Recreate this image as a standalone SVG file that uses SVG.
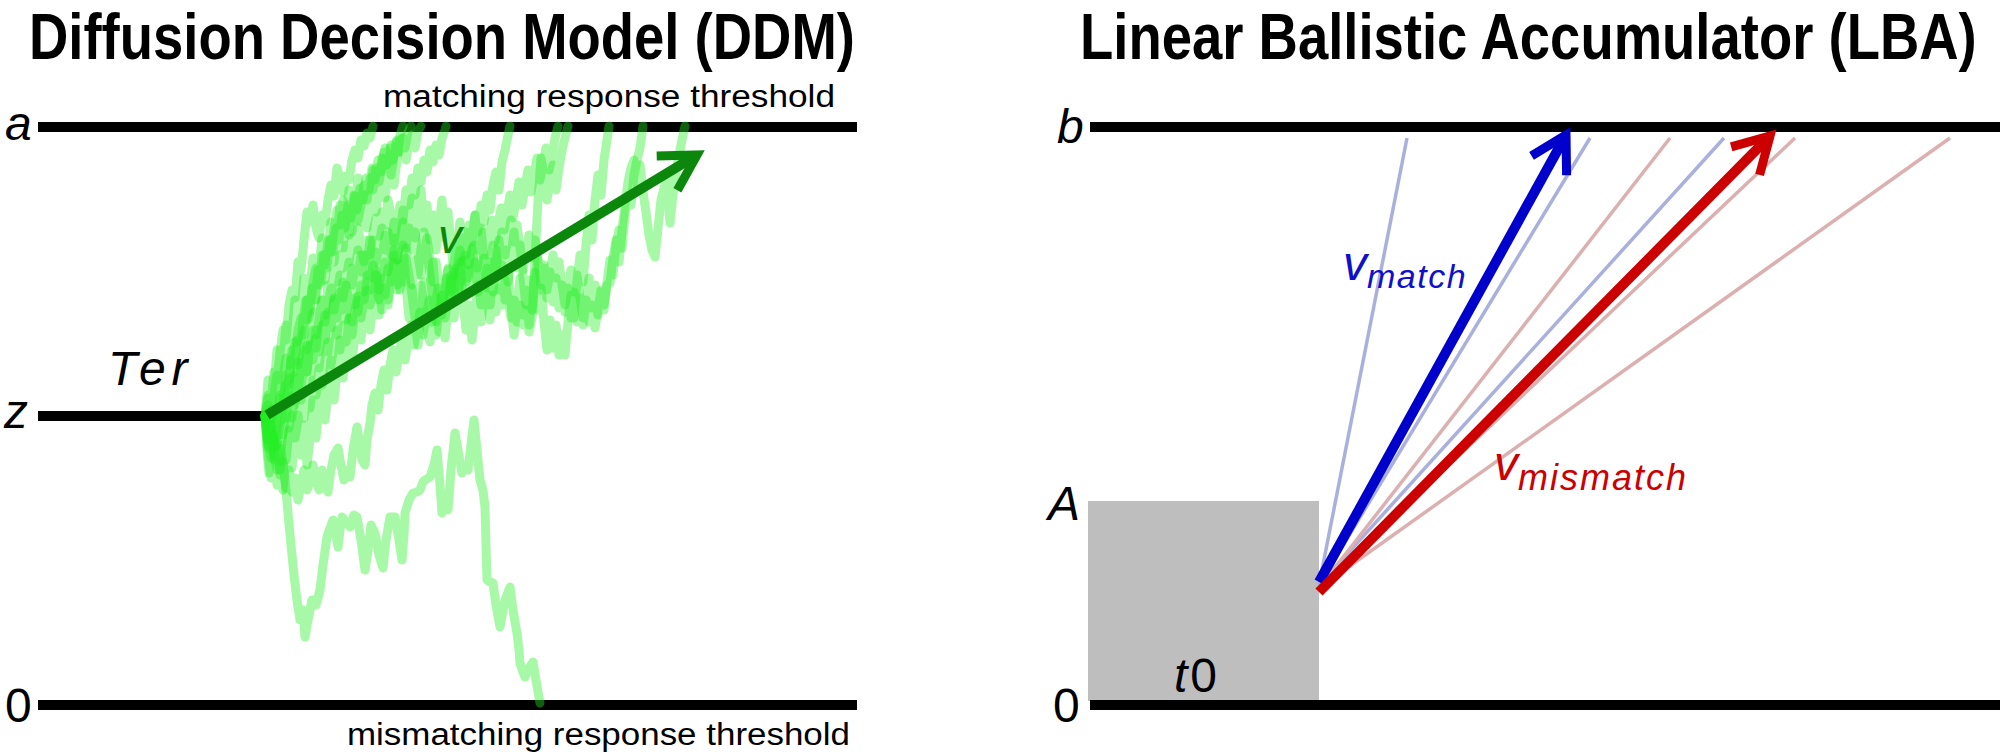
<svg xmlns="http://www.w3.org/2000/svg" width="2000" height="754" viewBox="0 0 2000 754">
<defs>
<style>
.title{font-family:"Liberation Sans",Arial,sans-serif;font-weight:bold;font-size:65px;fill:#000}
.lbl{font-family:"Liberation Sans",Arial,sans-serif;font-style:italic;font-size:48px;fill:#000}
.num{font-family:"Liberation Sans",Arial,sans-serif;font-size:48px;fill:#000}
.thr{font-family:"Liberation Sans",Arial,sans-serif;font-size:31px;fill:#000}
.axis{stroke:#000;stroke-width:10;fill:none}
.walk{fill:none;stroke:#22ee22;stroke-opacity:0.4;stroke-width:9;stroke-linejoin:round;stroke-linecap:round}
.thinB{stroke:#aab0dd;stroke-width:3.5;fill:none}
.thinR{stroke:#dcb0b0;stroke-width:3.5;fill:none}
</style>
<marker id="ahG" markerUnits="userSpaceOnUse" orient="auto" refX="0" refY="0" markerWidth="60" markerHeight="60" viewBox="-50 -30 60 60" overflow="visible"><path d="M-35,-20 L0,0 L-35,20" fill="none" stroke="#0b870b" stroke-width="9"/></marker>
<marker id="ahB" markerUnits="userSpaceOnUse" orient="auto" refX="0" refY="0" markerWidth="60" markerHeight="60" viewBox="-50 -30 60 60" overflow="visible"><path d="M-35,-20 L0,0 L-35,20" fill="none" stroke="#0000cc" stroke-width="9"/></marker>
<marker id="ahR" markerUnits="userSpaceOnUse" orient="auto" refX="0" refY="0" markerWidth="60" markerHeight="60" viewBox="-50 -30 60 60" overflow="visible"><path d="M-35,-20 L0,0 L-35,20" fill="none" stroke="#cc0000" stroke-width="9"/></marker>
</defs>
<rect width="2000" height="754" fill="#fff"/>

<g id="ddm">
<text class="title" transform="translate(29,59) scale(0.838,1)">Diffusion Decision Model (DDM)</text>
<g id="ddm-axes">
<line class="axis" x1="38" y1="127" x2="857" y2="127"/>
<line class="axis" x1="38" y1="416" x2="265" y2="416"/>
<line class="axis" x1="38" y1="705" x2="857" y2="705"/>
</g>
<text class="lbl" x="5" y="140" font-size="50">a</text>
<text class="lbl" x="4" y="428" font-size="50">z</text>
<text class="num" x="5" y="722">0</text>
<text class="lbl" x="108" y="385" font-size="45" letter-spacing="6">Ter</text>
<text class="thr" x="383" y="107" textLength="452" lengthAdjust="spacingAndGlyphs">matching response threshold</text>
<text class="thr" x="347" y="745" textLength="503" lengthAdjust="spacingAndGlyphs">mismatching response threshold</text>
<g id="walks">
<path class="walk" d="M265,416 L268,395 271,402 274,372 277,380 280,352 283,330 286,340 289,305 292,290 295,298 298,262 301,270 304,240 307,212 310,222 313,205 316,228 319,238 322,215 325,222 328,200 331,185 334,196 337,168 340,178 343,192 346,176 349,180 352,160 355,150 358,158 361,140 364,146 367,133 370,138 373,126"/>
<path class="walk" d="M265,416 L268,430 271,410 274,438 277,420 280,395 283,405 286,375 289,385 292,350 295,362 298,330 301,318 304,335 307,300 310,312 313,282 316,268 319,285 322,255 325,265 328,240 331,252 334,230 337,210 340,225 343,200 346,215 349,235 352,212 355,196 358,220 361,205 364,185 367,200 370,178 373,190 376,168 379,182 382,165 385,148 388,160 391,175 394,155 397,140 400,152 403,138 406,160 409,142 412,135 415,148 418,131 421,126"/>
<path class="walk" d="M265,416 L268,448 271,425 274,455 277,440 280,462 283,430 286,412 289,428 292,395 295,405 298,378 301,390 304,360 307,372 310,345 313,330 316,348 319,318 322,300 325,315 328,285 331,298 334,270 337,282 340,255 343,268 346,245 349,262 352,238 355,250 358,228 361,245 364,262 367,240 370,255 373,232 376,218 379,236 382,212 385,225 388,200 391,215 394,242 397,222 400,205 403,220 406,190 409,205 412,178 415,195 418,168 421,182 424,160 427,172 430,150 433,162 436,145 439,155 442,138 445,130 446,126"/>
<path class="walk" d="M265,416 L268,405 271,432 274,418 277,445 280,425 283,400 286,418 289,388 292,402 295,375 298,392 301,365 304,350 307,372 310,345 313,360 316,338 319,352 322,325 325,340 328,312 331,328 334,300 337,318 340,292 343,310 346,285 349,302 352,322 355,298 358,312 361,285 364,300 367,275 370,290 373,265 376,280 379,300 382,278 385,295 388,268 391,282 394,255 397,272 400,290 403,265 406,248 409,270 412,285 415,260 418,275 421,248 424,232 427,252 430,275 433,300 436,322 439,298 442,315 445,288 448,270 451,292 454,262 457,245 460,262 463,238 466,255 469,225 472,242 475,215 478,232 481,205 484,222 487,195 490,210 493,185 496,172 499,190 502,162 505,150 508,135 510,126"/>
<path class="walk" d="M265,416 L268,440 271,458 274,435 277,452 280,470 283,445 286,460 289,432 292,415 295,438 298,420 301,400 304,418 307,392 310,408 313,380 316,395 319,368 322,385 325,360 328,342 331,365 334,345 337,330 340,350 343,325 346,342 349,318 352,335 355,310 358,296 361,318 364,300 367,282 370,305 373,290 376,270 379,292 382,310 385,288 388,305 391,280 394,262 397,285 400,265 403,282 406,258 409,275 412,295 415,318 418,300 421,285 424,305 427,330 430,342 433,318 436,335 439,312 442,295 445,318 448,300 451,275 454,295 457,268 460,250 463,275 466,295 469,270 472,288 475,262 478,280 481,305 484,285 487,300 490,320 493,295 496,312 499,288 502,305 505,280 508,298 511,318 514,300 517,322 520,305 523,325 526,310 529,332 532,318 535,260 538,200 541,158 544,175 547,200 550,182 553,165 556,190 559,168 562,150 565,138 568,126"/>
<path class="walk" d="M265,416 L268,455 271,478 274,440 277,485 280,462 283,490 286,455 289,430 292,468 295,440 298,415 301,455 304,425 307,465 310,440 313,400 316,438 319,405 322,380 325,420 328,395 331,360 334,400 337,372 340,340 343,378 346,350 349,318 352,360 355,335 358,300 361,340 364,310 367,290 370,330 373,305 376,275 379,315 382,290 385,262 388,300 391,275 394,250 397,290 400,268 403,245 406,285 409,318 412,288 415,325 418,345 421,310 424,282 427,318 430,295 433,262 436,300 439,332 442,305 445,338 448,310 451,280 454,318 457,292 460,262 463,300 466,330 469,305 472,340 475,312 478,285 481,322 484,298 487,268 490,305 493,278 496,250 499,290 502,265 505,300 508,272 511,305 514,335 517,305 520,278 523,315 526,290 529,325 532,300 535,272 538,310 541,288 544,322 547,350 550,320 553,348 556,325 559,355 562,335 565,355 568,322 571,295 574,318 577,280 580,255 583,282 586,245 589,215 592,240 595,200 598,175 601,195 604,160 607,140 609,126"/>
<path class="walk" d="M265,416 L268,398 271,420 274,395 277,375 280,398 283,378 286,358 289,380 292,360 295,342 298,365 301,348 304,330 307,350 310,332 313,312 316,335 319,318 322,300 325,322 328,305 331,288 334,310 337,292 340,275 343,298 346,280 349,262 352,285 355,268 358,250 361,272 364,255 367,275 370,258 373,240 376,262 379,245 382,228 385,250 388,232 391,255 394,238 397,260 400,242 403,222 406,245 409,228 412,250 415,232 418,255 421,275 424,255 427,238 430,260 433,282 436,262 439,285 442,305 445,285 448,268 451,290 454,272 457,295 460,278 463,260 466,282 469,265 472,248 475,270 478,292 481,275 484,258 487,280 490,262 493,245 496,268 499,250 502,232 505,255 508,238 511,220 514,242 517,225 520,248 523,270 526,252 529,235 532,258 535,240 538,262 541,285 544,268 547,290 550,272 553,255 556,278 559,262 562,285 565,305 568,288 571,270 574,292 577,275 580,298 583,318 586,300 589,322 592,305 595,328 598,310 601,290 604,305 607,282 610,260 613,275 616,245 619,230 622,248 625,215 628,195 631,205 634,175 637,160 640,148 643,126"/>
<path class="walk" d="M265,416 L268,440 271,410 274,448 277,420 280,398 283,435 286,405 289,378 292,418 295,390 298,362 301,400 304,372 307,345 310,385 313,358 316,330 319,368 322,340 325,315 328,352 331,325 334,298 337,335 340,310 343,282 346,320 349,295 352,268 355,305 358,280 361,255 364,292 367,268 370,240 373,278 376,252 379,290 382,262 385,235 388,272 391,248 394,222 397,260 400,235 403,210 406,248 409,222 412,198 415,238 418,212 421,190 424,228 427,205 430,240 433,215 436,250 439,225 442,200 445,238 448,212 451,245 454,275 457,250 460,222 463,258 466,232 469,265 472,240 475,215 478,250 481,228 484,260 487,288 490,262 493,292 496,268 499,240 502,275 505,250 508,282 511,258 514,232 517,268 520,245 523,278 526,305 529,280 532,310 535,285 538,258 541,290 544,265 547,298 550,272 553,302 556,278 559,308 562,285 565,312 568,288 571,318 574,292 577,322 580,298 583,325 586,302 589,278 592,308 595,285 598,315 601,292 604,310 607,285 610,283 613,258 616,240 619,262 622,230 625,205 628,182 631,168 634,160 637,185 640,165 643,192 646,212 649,235 652,250 655,257 658,228 661,200 664,188 667,180 670,223 673,195 676,172 679,155 682,140 685,126"/>
<path class="walk" d="M265,416 L268,440 271,425 274,455 277,470 280,448 283,463 286,490 288,513 291,545 294,575 297,600 300,620 303,610 305,637 308,620 312,600 316,605 320,590 323,565 327,537 330,528 333,520 336,535 338,547 340,530 342,517 346,522 350,527 354,515 357,517 361,540 365,570 368,550 371,525 375,533 379,555 383,568 386,540 390,517 395,517 399,540 402,560 404,535 405,513 409,500 413,493 417,492 420,490 423,482 425,480 430,477 434,465 437,450 440,485 442,513 445,505 448,510 451,470 455,433 458,450 462,473 465,468 468,470 471,445 474,420 477,450 480,480 483,490 485,507 486,545 487,580 490,582 493,583 496,605 500,627 505,600 510,587 513,610 517,633 519,650 520,663 523,672 525,677 529,668 533,662 536,680 540,703"/>
<path class="walk" d="M265,416 L268,445 271,430 274,460 277,448 280,475 283,462 286,488 289,470 292,492 295,478 298,500 301,485 304,470 307,490 310,483 313,465 316,478 319,490 322,470 325,485 328,492 331,470 334,455 338,448 341,465 344,480 347,470 350,477 353,450 357,427 360,445 362,460 365,465 367,440 370,423 372,405 375,393 378,410 381,385 384,370 387,390 390,365 393,350 396,372 399,355 402,338 405,360 408,342 411,325 414,345 417,330 420,312 423,335 426,318 429,300 432,322 435,305 438,288 441,310 444,295 447,278 450,300 453,285 456,268 459,290 462,272 465,255 468,278 471,262 474,245 477,268 480,250 483,232 486,255 489,238 492,220 495,242 498,225 501,208 504,230 507,212 510,195 513,218 516,200 519,182 522,205 525,188 528,170 531,192 534,175 537,158 540,180 543,165 546,148 549,170 552,155 555,138 558,126"/>
<path class="walk" d="M265,416 L267,450 269,473 271,455 273,430 276,445 279,410 282,420 285,385 288,395 291,360 294,372 297,340 300,352 303,320 306,300 309,318 312,288 315,300 318,270 321,282 324,255 327,268 330,240 333,252 336,228 339,240 342,215 345,228 348,205 351,218 354,195 357,210 360,188 363,200 366,178 369,190 372,168 375,180 378,160 381,172 384,152 387,165 390,148 393,160 396,142 399,152 402,138 405,148 408,132 411,126"/>
<path class="walk" d="M265,416 L268,380 271,420 274,388 277,350 280,392 283,360 286,325 289,365 292,335 295,300 298,342 301,312 304,278 307,320 310,290 313,258 316,300 319,268 322,238 325,280 328,250 331,222 334,262 337,235 340,205 343,248 346,218 349,190 352,232 355,205 358,178 361,222 364,195 367,228 370,198 373,170 376,212 379,185 382,158 385,198 388,170 391,145 394,185 397,160 400,135 403,126"/>
</g>
<g id="ddm-connectors">
<line x1="267" y1="415" x2="697" y2="155" stroke="#0b870b" stroke-width="10" marker-end="url(#ahG)"/>
</g>
<text class="lbl" x="438" y="253" font-size="42" style="fill:#0b870b">v</text>
</g>

<g id="lba">
<text class="title" transform="translate(1080,59) scale(0.838,1)">Linear Ballistic Accumulator (LBA)</text>
<rect id="t0-box" x="1088" y="501" width="231" height="200" fill="#bebebe"/>
<g id="lba-axes">
<line class="axis" x1="1090" y1="127" x2="2000" y2="127"/>
<line class="axis" x1="1090" y1="705" x2="2000" y2="705"/>
</g>
<text class="lbl" x="1057" y="143" font-size="50">b</text>
<text class="lbl" x="1048" y="520">A</text>
<text class="num" x="1053" y="722">0</text>
<text class="num" x="1174" y="692" letter-spacing="3"><tspan font-style="italic">t</tspan>0</text>
<g id="lba-connectors">
<line class="thinB" x1="1319" y1="585" x2="1407" y2="138"/>
<line class="thinB" x1="1319" y1="585" x2="1590" y2="138"/>
<line class="thinB" x1="1319" y1="585" x2="1724" y2="138"/>
<line class="thinR" x1="1319" y1="588" x2="1670" y2="138"/>
<line class="thinR" x1="1319" y1="588" x2="1795" y2="138"/>
<line class="thinR" x1="1319" y1="588" x2="1950" y2="138"/>
<line x1="1319" y1="582" x2="1566" y2="135" stroke="#0000cc" stroke-width="10" marker-end="url(#ahB)"/>
<line x1="1319" y1="592" x2="1770" y2="136" stroke="#cc0000" stroke-width="10" marker-end="url(#ahR)"/>
</g>
<text class="lbl" x="1343" y="280" style="fill:#1010cc">v<tspan font-size="34" dy="8" letter-spacing="1.5">match</tspan></text>
<text class="lbl" x="1494" y="480" style="fill:#cc0000">v<tspan font-size="36" dy="10" letter-spacing="2">mismatch</tspan></text>
</g>
</svg>
